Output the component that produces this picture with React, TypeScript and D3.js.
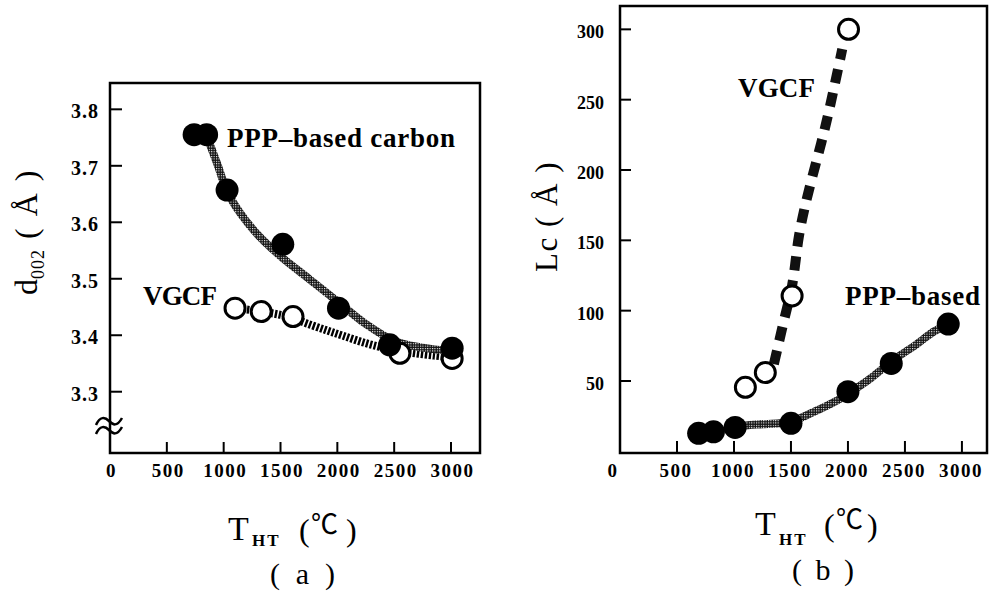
import React from 'react';
import * as d3 from 'd3';

// ---------- data ----------
const xTicks = [0, 500, 1000, 1500, 2000, 2500, 3000];
const aYTicks = [3.3, 3.4, 3.5, 3.6, 3.7, 3.8];
const bYTicks = [50, 100, 150, 200, 250, 300];

// panel (a): d002
const aPppX = [740, 850, 1030, 1520, 2010, 2460, 3010];
const aPppY = [3.755, 3.755, 3.657, 3.561, 3.448, 3.383, 3.377];
const aVgcfX = [1100, 1330, 1610, 2550, 3010];
const aVgcfY = [3.448, 3.442, 3.433, 3.368, 3.359];
const aPppFitX = [860, 950, 1030, 1150, 1300, 1500, 1750, 2000, 2250, 2500, 2750, 3000];
const aPppFitY = [3.748, 3.7, 3.655, 3.615, 3.578, 3.54, 3.5, 3.46, 3.42, 3.39, 3.378, 3.372];
const aVgcfFitX = [1100, 1330, 1500, 1612, 1730, 1900, 2050, 2250, 2450, 2650, 2850, 3000];
const aVgcfFitY = [3.448, 3.442, 3.436, 3.43, 3.421, 3.409, 3.399, 3.386, 3.376, 3.369, 3.364, 3.361];

// panel (b): Lc
const bPppX = [690, 820, 1010, 1500, 2000, 2380, 2880];
const bPppY = [12.8, 13.9, 17, 19.9, 42.4, 62.5, 90.5];
const bVgcfX = [1100, 1275, 1510, 2005];
const bVgcfY = [45.5, 56, 110.5, 300];
const bPppFitX = [1010, 1200, 1400, 1500, 1700, 1900, 2000, 2200, 2400, 2600, 2750, 2880];
const bPppFitY = [17.5, 19, 20, 21, 28, 36, 41, 52, 65, 76, 85, 90.5];
const bVgcfFitX = [1350, 1430, 1510, 1570, 1620, 1690, 1765, 1825, 1882, 1950];
const bVgcfFitY = [62, 90, 118, 153, 173, 196, 219, 239, 260, 286];

const SERIF = '"Liberation Serif", "Times New Roman", serif';
const CJK = '"Noto Sans CJK JP", "DejaVu Sans", sans-serif';

const zip = (xs: number[], ys: number[]) => xs.map((x, i) => [x, ys[i]] as [number, number]);

export default function App() {
  const axA = d3.scaleLinear().domain([0, 3255]).range([110, 480]);
  const ayA = d3.scaleLinear().domain([3.1915, 3.8466]).range([453, 83]);
  const axB = d3.scaleLinear().domain([0, 3220]).range([620, 987]);
  const ayB = d3.scaleLinear().domain([-1.2, 316.6]).range([453, 6]);

  const mkLine = (sx: any, sy: any) =>
    d3.line<[number, number]>().x(d => sx(d[0])).y(d => sy(d[1])).curve(d3.curveCatmullRom.alpha(0.5));

  const lineA = mkLine(axA, ayA);
  const lineB = mkLine(axB, ayB);

  const tickStyle = { stroke: '#000', strokeWidth: 2 };

  return (
    <svg width={990} height={592} viewBox="0 0 990 592"
      style={{ position: 'absolute', left: 0, top: 0, background: '#fff' }}>
      <defs>
        <pattern id="stip" patternUnits="userSpaceOnUse" width="2.4" height="2.4">
          <rect width="2.4" height="2.4" fill="#111" />
          <rect width="1.1" height="1.1" fill="#fff" />
        </pattern>
      </defs>
      <rect x={0} y={0} width={990} height={592} fill="#fff" />

      {/* ================= panel (a) ================= */}
      <g>
        <path d={lineA(zip(aVgcfFitX, aVgcfFitY)) || ''} fill="none" stroke="#000"
          strokeWidth={8} strokeDasharray="2.4 1.6" />
        <path d={lineA(zip(aPppFitX, aPppFitY)) || ''} fill="none" stroke="url(#stip)"
          strokeWidth={8} />
        {aVgcfX.map((x, i) => (
          <circle key={'ao' + i} cx={axA(x)} cy={ayA(aVgcfY[i])} r={10} fill="#fff" stroke="#000" strokeWidth={3} />
        ))}
        {aPppX.map((x, i) => (
          <circle key={'af' + i} cx={axA(x)} cy={ayA(aPppY[i])} r={11.5} fill="#000" />
        ))}

        <rect x={110} y={83} width={370} height={370} fill="none" stroke="#000" strokeWidth={2.5} />
        {xTicks.filter(t => t > 0).map(t => (
          <line key={'axt' + t} x1={axA(t)} x2={axA(t)} y1={453} y2={442} {...tickStyle} />
        ))}
        {aYTicks.map(t => (
          <line key={'ayt' + t} x1={110} x2={122} y1={ayA(t)} y2={ayA(t)} {...tickStyle} />
        ))}
        <path d="M96,425 C100,416 105,417 109,421 S117,427 122,418" fill="none" stroke="#000" strokeWidth={2.5} />
        <path d="M96,434 C100,425 105,426 109,430 S117,436 122,427" fill="none" stroke="#000" strokeWidth={2.5} />

        {xTicks.map(t => (
          <text key={'axl' + t} x={axA(t) + 1.5} y={477} textAnchor="middle" fontFamily={SERIF}
            fontWeight="bold" fontSize={19} letterSpacing={1.5}>{t}</text>
        ))}
        {aYTicks.map(t => (
          <text key={'ayl' + t} x={99} y={ayA(t) + 9} textAnchor="end" fontFamily={SERIF}
            fontWeight="bold" fontSize={20} letterSpacing={1}>{t.toFixed(1)}</text>
        ))}

        <text x={227} y={147} fontFamily={SERIF} fontWeight="bold" fontSize={27}
          textLength={228} lengthAdjust="spacing">PPP–based carbon</text>
        <text x={143} y={305} fontFamily={SERIF} fontWeight="bold" fontSize={27}
          textLength={74} lengthAdjust="spacing">VGCF</text>

        <text transform="translate(37,295) rotate(-90)" fontFamily={SERIF} fontSize={32}>
          <tspan>d</tspan>
          <tspan fontSize={18} dy={7} letterSpacing={1}>002</tspan>
          <tspan dy={-7} letterSpacing={2}> ( Å )</tspan>
        </text>

        <text x={228} y={540} fontFamily={SERIF} fontSize={34}>T</text>
        <text x={252} y={546} fontFamily={SERIF} fontSize={17} fontWeight="bold" letterSpacing={2}>HT</text>
        <text x={299} y={541} fontFamily={SERIF} fontSize={32}>(</text>
        <text x={311} y={534} fontFamily={CJK} fontSize={27}>℃</text>
        <text x={346} y={541} fontFamily={SERIF} fontSize={32}>)</text>
        <text x={270} y={584} fontFamily={SERIF} fontSize={30}
          textLength={65} lengthAdjust="spacing">( a )</text>
      </g>

      {/* ================= panel (b) ================= */}
      <g>
        <path d={lineB(zip(bVgcfFitX, bVgcfFitY)) || ''} fill="none" stroke="#111"
          strokeWidth={10} strokeDasharray="14 10" />
        <path d={lineB(zip(bPppFitX, bPppFitY)) || ''} fill="none" stroke="url(#stip)"
          strokeWidth={8} />
        {bVgcfX.map((x, i) => (
          <circle key={'bo' + i} cx={axB(x)} cy={ayB(bVgcfY[i])} r={10} fill="#fff" stroke="#000" strokeWidth={3} />
        ))}
        {bPppX.map((x, i) => (
          <circle key={'bf' + i} cx={axB(x)} cy={ayB(bPppY[i])} r={11.5} fill="#000" />
        ))}

        <rect x={620} y={6} width={367} height={447} fill="none" stroke="#000" strokeWidth={2.5} />
        {xTicks.filter(t => t > 0).map(t => (
          <line key={'bxt' + t} x1={axB(t)} x2={axB(t)} y1={453} y2={441} {...tickStyle} />
        ))}
        {bYTicks.map(t => (
          <line key={'byt' + t} x1={620} x2={631} y1={ayB(t)} y2={ayB(t)} {...tickStyle} />
        ))}

        {xTicks.map(t => (
          <text key={'bxl' + t} x={axB(t) + (t === 0 ? -7 : -1)} y={477} textAnchor="middle" fontFamily={SERIF}
            fontWeight="bold" fontSize={19} letterSpacing={1.5}>{t}</text>
        ))}
        {bYTicks.map(t => (
          <text key={'byl' + t} x={604} y={ayB(t) + 9} textAnchor="end" fontFamily={SERIF}
            fontWeight="bold" fontSize={18}>{t}</text>
        ))}

        <text x={738} y={97} fontFamily={SERIF} fontWeight="bold" fontSize={27}
          textLength={77} lengthAdjust="spacing">VGCF</text>
        <text x={845} y={305} fontFamily={SERIF} fontWeight="bold" fontSize={27}
          textLength={135} lengthAdjust="spacing">PPP–based</text>

        <text transform="translate(557,272) rotate(-90)" fontFamily={SERIF} fontSize={31}
          letterSpacing={1.5}>Lc ( Å )</text>

        <text x={755} y={535} fontFamily={SERIF} fontSize={34}>T</text>
        <text x={779} y={545} fontFamily={SERIF} fontSize={17} fontWeight="bold" letterSpacing={2}>HT</text>
        <text x={824} y={536} fontFamily={SERIF} fontSize={32}>(</text>
        <text x={836} y={529} fontFamily={CJK} fontSize={27}>℃</text>
        <text x={867} y={536} fontFamily={SERIF} fontSize={32}>)</text>
        <text x={792} y={580} fontFamily={SERIF} fontSize={30}
          textLength={62} lengthAdjust="spacing">( b )</text>
      </g>
    </svg>
  );
}
